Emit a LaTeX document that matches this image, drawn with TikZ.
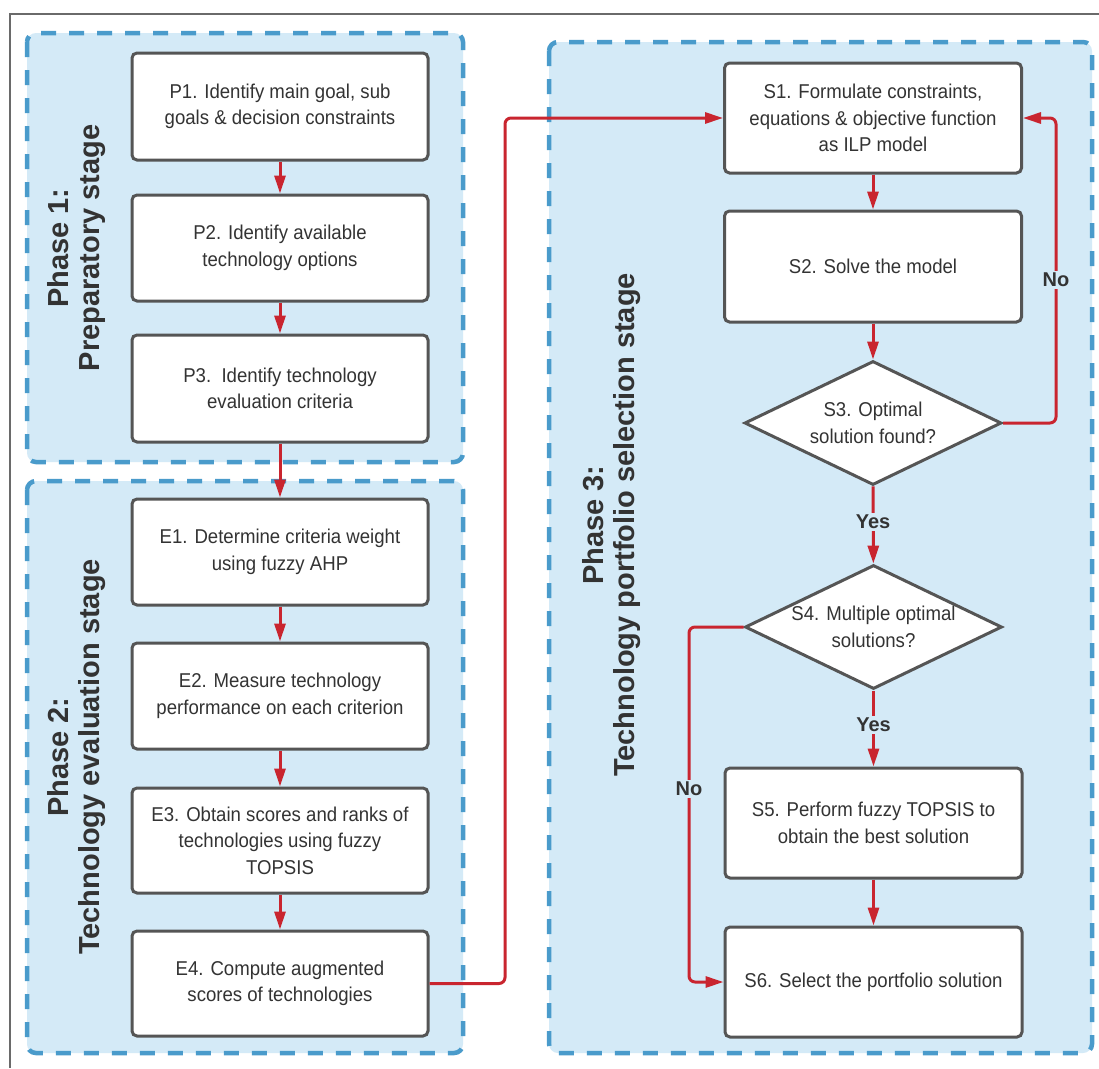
\documentclass[tikz,border=0pt]{standalone}
\usepackage{fontspec}
\setmainfont{Liberation Sans}
\newfontfamily\boxfont[FakeStretch=0.93]{Liberation Sans}
\usetikzlibrary{shapes.geometric,arrows.meta}
\definecolor{phasefill}{HTML}{D4EAF7}
\definecolor{phasedraw}{HTML}{4A9BCB}
\definecolor{flowred}{HTML}{C9252F}
\definecolor{boxline}{HTML}{555555}
\definecolor{txt}{HTML}{333333}
\definecolor{frameline}{HTML}{6A6A6A}
\tikzset{
  phasebox/.style={fill=phasefill, draw=phasedraw, line width=4.5pt, dash pattern=on 15pt off 13pt, rounded corners=9pt},
  stepbox/.style={draw=boxline, fill=white, line width=3pt, rounded corners=5pt, minimum width=296pt, align=center, text=txt, inner sep=0pt, font=\boxfont\fontsize{20}{26.5}\selectfont},
  decbox/.style={diamond, draw=boxline, fill=white, line width=3pt, minimum width=257pt, minimum height=124pt, shape aspect=2.07, inner sep=0pt, align=center, text=txt, font=\boxfont\fontsize{20}{26.5}\selectfont},
  phaselabel/.style={rotate=90, align=center, text=txt, font=\bfseries\fontsize{29}{31}\selectfont},
  flow/.style={draw=flowred, line width=3pt, rounded corners=6pt, -{Triangle[length=18pt,width=11pt]}},
  flowlabel/.style={fill=phasefill, text=txt, inner sep=2pt, font=\bfseries\fontsize{20}{24}\selectfont}
}
\begin{document}
\begin{tikzpicture}[x=1pt,y=-1pt]
\useasboundingbox (0,0) rectangle (1099,1068);
\fill[white] (0,0) rectangle (1099,1068);
\draw[frameline, line width=2.5pt] (1099,14) -- (10,14) -- (10,1068);

% phase backgrounds
\path[phasebox] (27,33) rectangle (463,462);
\path[phasebox] (27,481) rectangle (463,1053);
\path[phasebox] (549,42) rectangle (1092,1053);

% phase labels
\node[phaselabel] (ph1) at (77,248) {Phase 1:\\Preparatory stage};
\node[phaselabel] (ph2) at (77,757) {Phase 2:\\Technology evaluation stage};
\node[phaselabel] (ph3) at (612,525) {Phase 3:\\Technology portfolio selection stage};

% phase 1
\node[stepbox, minimum height=107pt] (p1) at (280,106.5) {P1. Identify main goal, sub\\goals \& decision constraints};
\node[stepbox, minimum height=106pt] (p2) at (280,248) {P2. Identify available\\technology options};
\node[stepbox, minimum height=107pt] (p3) at (280,388.5) {P3.\ \ Identify technology\\evaluation criteria};

% phase 2
\node[stepbox, minimum height=106pt] (e1) at (280,552) {E1. Determine criteria weight\\using fuzzy AHP};
\node[stepbox, minimum height=106pt] (e2) at (280,696) {E2. Measure technology\\performance on each criterion};
\node[stepbox, minimum height=105pt] (e3) at (280,840.5) {E3. Obtain scores and ranks of\\technologies using fuzzy\\TOPSIS};
\node[stepbox, minimum height=105pt] (e4) at (280,983.5) {E4. Compute augmented\\scores of technologies};

% phase 3
\node[stepbox, minimum height=110pt, minimum width=297pt] (s1) at (873,118) {S1. Formulate constraints,\\equations \& objective function\\as ILP model};
\node[stepbox, minimum height=111pt, minimum width=297pt] (s2) at (873,266.5) {S2. Solve the model};
\node[decbox] (s3) at (873,423) {S3. Optimal\\solution found?};
\node[decbox] (s4) at (873.5,627) {S4. Multiple optimal\\solutions?};
\node[stepbox, minimum height=110pt, minimum width=297pt] (s5) at (873.5,823) {S5. Perform fuzzy TOPSIS to\\obtain the best solution};
\node[stepbox, minimum height=110pt, minimum width=297pt] (s6) at (873.5,982) {S6. Select the portfolio solution};

% connectors
\draw[flow] (p1) -- (p2);
\draw[flow] (p2) -- (p3);
\draw[flow] (p3) -- (e1);
\draw[flow] (e1) -- (e2);
\draw[flow] (e2) -- (e3);
\draw[flow] (e3) -- (e4);
\coordinate (j1) at (505,983.5);
\coordinate (j2) at (505,118);
\draw[flow] (e4.east) -- (j1) -- (j2) -- (s1.west);
\draw[flow] (s1) -- (s2);
\draw[flow] (s2) -- (s3);
\coordinate (n1) at (1056,423);
\coordinate (n2) at (1056,118);
\draw[flow] (s3.east) -- (n1) -- (n2) -- (s1.east);
\draw[flow] (s3) -- (s4);
\draw[flow] (s4) -- (s5);
\draw[flow] (s5) -- (s6);
\coordinate (m1) at (689,627);
\coordinate (m2) at (689,982);
\draw[flow] (s4.west) -- (m1) -- (m2) -- (s6.west);

% labels on connectors
\node[flowlabel] (lno1) at (1056,280) {No};
\node[flowlabel] (lyes1) at (873,522) {Yes};
\node[flowlabel] (lyes2) at (873.5,725) {Yes};
\node[flowlabel] (lno2) at (689,789) {No};
\end{tikzpicture}
\end{document}
